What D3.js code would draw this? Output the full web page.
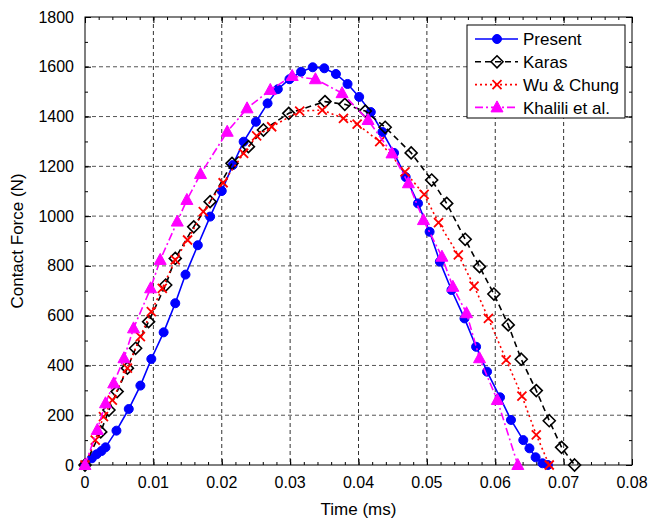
<!DOCTYPE html>
<html>
<head>
<meta charset="utf-8">
<script src="https://cdn.jsdelivr.net/npm/d3@7"></script>
<style>
  body { margin: 0; background: #fff; }
  svg text { font-family: "Liberation Sans", Arial, sans-serif; }
</style>
</head>
<body>
<svg id="chart"></svg>
<script>
// values
const presentT = [0, 0.001, 0.0017, 0.0024, 0.003, 0.0046, 0.0064, 0.0081, 0.0097, 0.0115, 0.0132, 0.0147, 0.0165, 0.0183, 0.0200, 0.0216, 0.0232, 0.0250, 0.0267, 0.0282, 0.0299, 0.0316, 0.0333, 0.0350, 0.0367, 0.0384, 0.0401, 0.0418, 0.0435, 0.0452, 0.0469, 0.0487, 0.0504, 0.0519, 0.0536, 0.0555, 0.0572, 0.0588, 0.0607, 0.0623, 0.0641, 0.0650, 0.0659, 0.0669, 0.0677];
const presentF = [0, 27, 43, 56, 71, 138, 225, 319, 426, 533, 650, 765, 883, 998, 1101, 1205, 1299, 1379, 1453, 1510, 1550, 1580, 1598, 1594, 1571, 1531, 1479, 1418, 1338, 1254, 1157, 1051, 937, 817, 703, 589, 475, 375, 272, 181, 100, 67, 31, 7, 0];

const karasT = [0, 0.0023, 0.0035, 0.0047, 0.0062, 0.0074, 0.0093, 0.0118, 0.0132, 0.0159, 0.0183, 0.0215, 0.0239, 0.0261, 0.0298, 0.0351, 0.0380, 0.0410, 0.0439, 0.0477, 0.0507, 0.0529, 0.0556, 0.0577, 0.0598, 0.0619, 0.0638, 0.0660, 0.0679, 0.0697, 0.0716];
const karasF = [0, 133, 221, 295, 389, 469, 576, 723, 830, 957, 1058, 1212, 1279, 1346, 1413, 1460, 1449, 1422, 1357, 1254, 1145, 1051, 907, 797, 687, 563, 425, 299, 178, 71, 0];

const wuT = [0, 0.0015, 0.0027, 0.0040, 0.0062, 0.0081, 0.0097, 0.0113, 0.0132, 0.0150, 0.0173, 0.0202, 0.0232, 0.0251, 0.0273, 0.0314, 0.0347, 0.0378, 0.0398, 0.0431, 0.0468, 0.0496, 0.0517, 0.0546, 0.0569, 0.0590, 0.0616, 0.0639, 0.0660, 0.0679];
const wuF = [0, 100, 194, 261, 389, 516, 616, 710, 824, 904, 1018, 1134, 1252, 1322, 1359, 1422, 1426, 1393, 1370, 1299, 1178, 1087, 974, 844, 719, 589, 422, 277, 121, 0];

const khaliliT = [0, 0.0018, 0.0030, 0.0042, 0.0057, 0.0071, 0.0096, 0.0110, 0.0135, 0.0149, 0.0169, 0.0208, 0.0237, 0.0271, 0.0303, 0.0337, 0.0376, 0.0414, 0.0449, 0.0473, 0.0495, 0.0522, 0.0538, 0.0558, 0.0577, 0.0603, 0.0633];
const khaliliF = [0, 141, 248, 328, 429, 549, 710, 824, 978, 1065, 1169, 1339, 1433, 1507, 1563, 1550, 1494, 1386, 1252, 1132, 984, 837, 716, 610, 429, 261, 0];

const xTicks = [0, 0.01, 0.02, 0.03, 0.04, 0.05, 0.06, 0.07, 0.08];
const xTickLabels = ["0", "0.01", "0.02", "0.03", "0.04", "0.05", "0.06", "0.07", "0.08"];
const yTicks = [0, 200, 400, 600, 800, 1000, 1200, 1400, 1600, 1800];

const W = 648, H = 519;
const m = { left: 85, right: 16, top: 17, bottom: 54 };
const iw = W - m.left - m.right, ih = H - m.top - m.bottom;

const svg = d3.select("#chart").attr("width", W).attr("height", H);
const g = svg.append("g").attr("transform", "translate(" + m.left + "," + m.top + ")");

const x = d3.scaleLinear().domain([0, 0.08]).range([0, iw]);
const y = d3.scaleLinear().domain([0, 1800]).range([ih, 0]);

// grid
g.append("g").selectAll("line").data(xTicks.slice(1, -1)).enter().append("line")
  .attr("x1", d => x(d)).attr("x2", d => x(d)).attr("y1", 0).attr("y2", ih)
  .attr("stroke", "#333").attr("stroke-dasharray", "4,3");
g.append("g").selectAll("line").data(yTicks.slice(1, -1)).enter().append("line")
  .attr("y1", d => y(d)).attr("y2", d => y(d)).attr("x1", 0).attr("x2", iw)
  .attr("stroke", "#555").attr("stroke-dasharray", "4,3");

// ticks inward on all four sides, major + minor
const minorX = d3.range(0, 0.0801, 0.002);
const minorY = d3.range(0, 1801, 100);
g.append("g").attr("transform", "translate(0," + ih + ")")
  .call(d3.axisTop(x).tickValues(minorX).tickSize(3).tickFormat(""));
g.append("g").attr("transform", "translate(0," + ih + ")")
  .call(d3.axisTop(x).tickValues(xTicks).tickSize(6).tickFormat(""));
g.append("g").call(d3.axisBottom(x).tickValues(minorX).tickSize(3).tickFormat(""));
g.append("g").call(d3.axisBottom(x).tickValues(xTicks).tickSize(6).tickFormat(""));
g.append("g").call(d3.axisRight(y).tickValues(minorY).tickSize(3).tickFormat(""));
g.append("g").call(d3.axisRight(y).tickValues(yTicks).tickSize(6).tickFormat(""));
g.append("g").attr("transform", "translate(" + iw + ",0)")
  .call(d3.axisLeft(y).tickValues(minorY).tickSize(3).tickFormat(""));
g.append("g").attr("transform", "translate(" + iw + ",0)")
  .call(d3.axisLeft(y).tickValues(yTicks).tickSize(6).tickFormat(""));
g.selectAll(".domain").remove();
g.selectAll(".tick line").attr("stroke", "#000");

g.append("rect").attr("width", iw).attr("height", ih)
  .attr("fill", "none").attr("stroke", "#000").attr("stroke-width", 1);

// tick labels
g.append("g").selectAll("text").data(xTicks).enter().append("text")
  .attr("x", d => x(d)).attr("y", ih + 23).attr("text-anchor", "middle")
  .attr("font-size", 16).text((d, i) => xTickLabels[i]);
g.append("g").selectAll("text").data(yTicks).enter().append("text")
  .attr("x", -11).attr("y", d => y(d)).attr("dy", "0.35em").attr("text-anchor", "end")
  .attr("font-size", 16).text(d => d);

svg.append("text").attr("x", m.left + iw / 2).attr("y", 515).attr("text-anchor", "middle")
  .attr("font-size", 17).text("Time (ms)");
svg.append("text").attr("transform", "translate(23," + (m.top + ih / 2) + ") rotate(-90)")
  .attr("text-anchor", "middle").attr("font-size", 17).text("Contact Force (N)");

// marker shapes
function marker(sel, kind, color) {
  if (kind === "circle") {
    sel.append("circle").attr("r", 4.5).attr("fill", color).attr("stroke", color);
  } else if (kind === "diamond") {
    sel.append("path").attr("d", "M0,-6L6,0L0,6L-6,0Z").attr("fill", "none")
      .attr("stroke", color).attr("stroke-width", 1.6);
  } else if (kind === "x") {
    sel.append("path").attr("d", "M-4.5,-4.5L4.5,4.5M-4.5,4.5L4.5,-4.5")
      .attr("stroke", color).attr("stroke-width", 1.8);
  } else if (kind === "tri") {
    sel.append("path").attr("d", "M0,-6.5L6,4.5L-6,4.5Z").attr("fill", color).attr("stroke", color);
  }
}

const series = [
  { name: "Present", t: presentT, f: presentF, color: "#0000ff", dash: null, mk: "circle" },
  { name: "Karas", t: karasT, f: karasF, color: "#000000", dash: "6,4", mk: "diamond" },
  { name: "Wu & Chung", t: wuT, f: wuF, color: "#ff0000", dash: "2,3", mk: "x" },
  { name: "Khalili et al.", t: khaliliT, f: khaliliF, color: "#ff00ff", dash: "8,3,2,3", mk: "tri" }
];

const line = d3.line().x(d => x(d[0])).y(d => y(d[1]));

series.forEach(s => {
  const pts = s.t.map((t, i) => [t, s.f[i]]);
  g.append("path").datum(pts).attr("d", line).attr("fill", "none")
    .attr("stroke", s.color).attr("stroke-width", 1.6)
    .attr("stroke-dasharray", s.dash);
  g.append("g").selectAll("g").data(pts).enter().append("g")
    .attr("transform", d => "translate(" + x(d[0]) + "," + y(d[1]) + ")")
    .each(function () { marker(d3.select(this), s.mk, s.color); });
});

// legend
const lg = svg.append("g").attr("transform", "translate(467,25)");
lg.append("rect").attr("width", 158).attr("height", 93).attr("fill", "#fff").attr("stroke", "#000");
series.forEach((s, i) => {
  const row = lg.append("g").attr("transform", "translate(0," + (14 + i * 22.8) + ")");
  row.append("line").attr("x1", 8).attr("x2", 51).attr("stroke", s.color)
    .attr("stroke-width", 1.6).attr("stroke-dasharray", s.dash);
  marker(row.append("g").attr("transform", "translate(30,0)"), s.mk, s.color);
  row.append("text").attr("x", 56).attr("dy", "0.36em").attr("font-size", 17).text(s.name);
});
</script>
</body>
</html>
